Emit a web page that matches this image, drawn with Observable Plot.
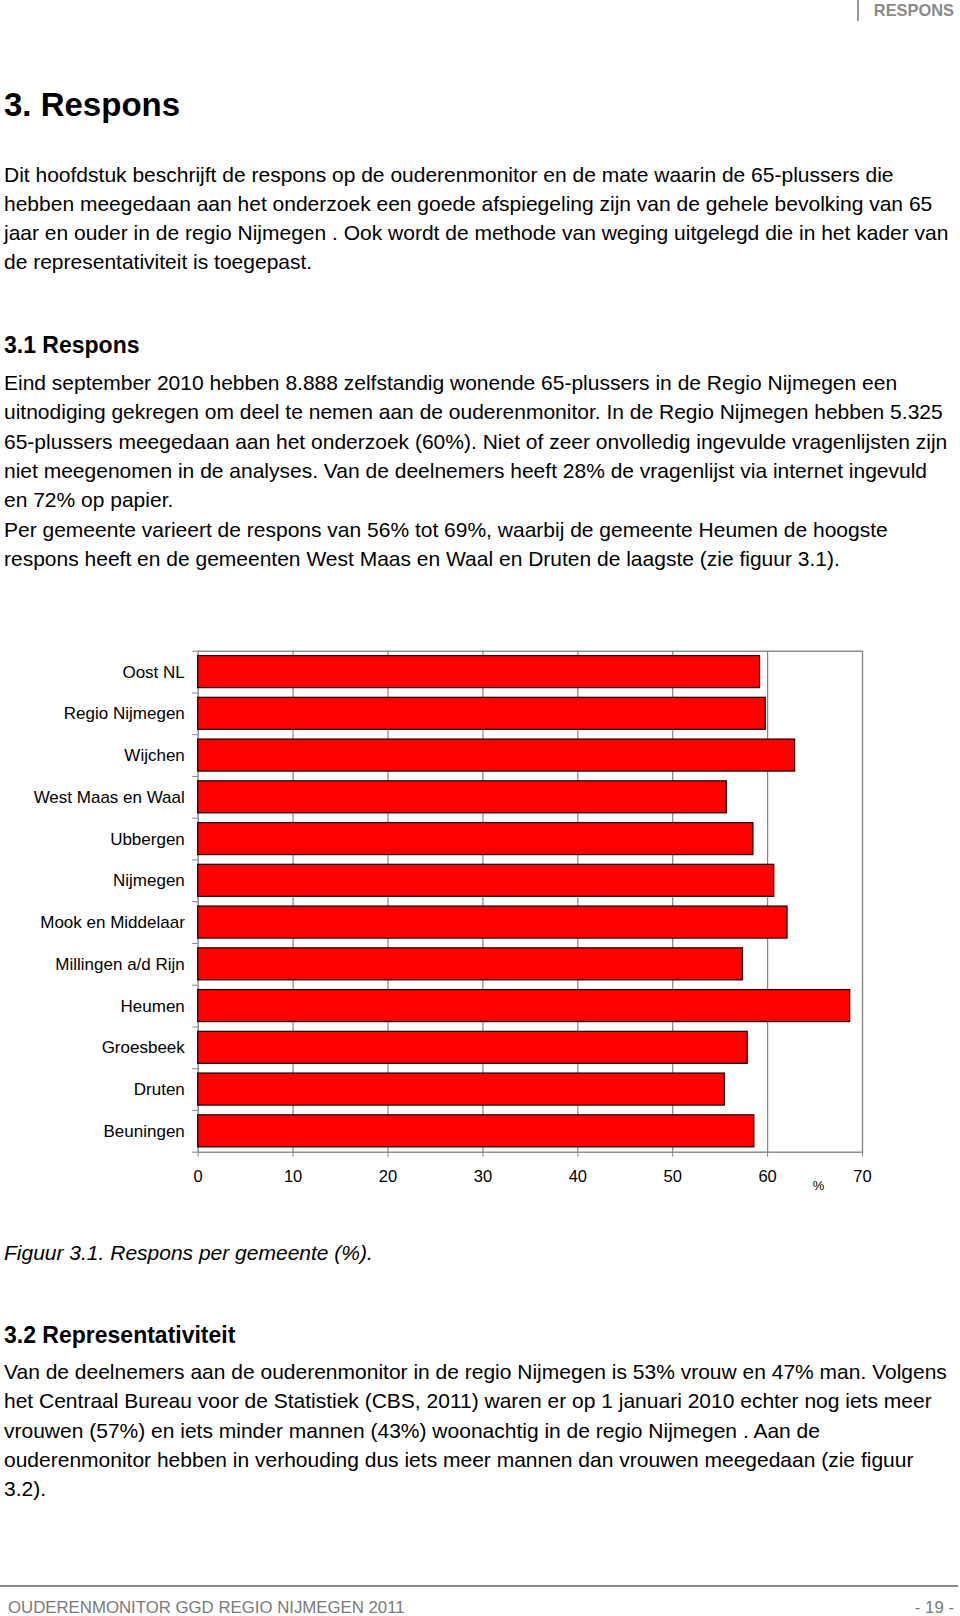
<!DOCTYPE html>
<html>
<head>
<meta charset="utf-8">
<script src="https://cdn.jsdelivr.net/npm/d3@7"></script>
<script src="https://cdn.jsdelivr.net/npm/@observablehq/plot@0.6"></script>
<style>
  html, body { margin: 0; padding: 0; background: #fff; }
  body { width: 960px; height: 1616px; position: relative; overflow: hidden;
         font-family: "Liberation Sans", Arial, sans-serif; color: #000; }
  .ln { position: absolute; left: 4px; white-space: nowrap; font-size: 21px; line-height: 29.3px; height: 29.3px; }
  .h1 { font-size: 33px; font-weight: bold; line-height: 40px; height: 40px; }
  .h2 { font-size: 23px; font-weight: bold; line-height: 30px; height: 30px; }
  .cap { font-style: italic; }
  #chart { position: absolute; left: 0; top: 640px; }
</style>
</head>
<body>
<script>
// ---- chart data ----
const categories = ["Oost NL", "Regio Nijmegen", "Wijchen", "West Maas en Waal", "Ubbergen", "Nijmegen",
  "Mook en Middelaar", "Millingen a/d Rijn", "Heumen", "Groesbeek", "Druten", "Beuningen"];
const responsPct = [59.2, 59.8, 62.9, 55.7, 58.5, 60.7, 62.1, 57.4, 68.7, 57.9, 55.5, 58.6];
const xTicks = [0, 10, 20, 30, 40, 50, 60, 70];
const gridTicks = [10, 20, 30, 40, 50, 60];
const unitLabel = "%";

// ---- page text ----
const headerRight = "RESPONS";
const title = "3. Respons";
const para1 = [
  "Dit hoofdstuk beschrijft de respons op de ouderenmonitor en de mate waarin de 65-plussers die",
  "hebben meegedaan aan het onderzoek een goede afspiegeling zijn van de gehele bevolking van 65",
  "jaar en ouder in de regio Nijmegen . Ook wordt de methode van weging uitgelegd die in het kader van",
  "de representativiteit is toegepast."
];
const heading31 = "3.1 Respons";
const para2 = [
  "Eind september 2010 hebben 8.888 zelfstandig wonende 65-plussers in de Regio Nijmegen een",
  "uitnodiging gekregen om deel te nemen aan de ouderenmonitor. In de Regio Nijmegen hebben 5.325",
  "65-plussers meegedaan aan het onderzoek (60%). Niet of zeer onvolledig ingevulde vragenlijsten zijn",
  "niet meegenomen in de analyses. Van de deelnemers heeft 28% de vragenlijst via internet ingevuld",
  "en 72% op papier.",
  "Per gemeente varieert de respons van 56% tot 69%, waarbij de gemeente Heumen de hoogste",
  "respons heeft en de gemeenten West Maas en Waal en Druten de laagste (zie figuur 3.1)."
];
const caption = "Figuur 3.1. Respons per gemeente (%).";
const heading32 = "3.2 Representativiteit";
const para3 = [
  "Van de deelnemers aan de ouderenmonitor in de regio Nijmegen is 53% vrouw en 47% man. Volgens",
  "het Centraal Bureau voor de Statistiek (CBS, 2011) waren er op 1 januari 2010 echter nog iets meer",
  "vrouwen (57%) en iets minder mannen (43%) woonachtig in de regio Nijmegen . Aan de",
  "ouderenmonitor hebben in verhouding dus iets meer mannen dan vrouwen meegedaan (zie figuur",
  "3.2)."
];
const footerLeft = "OUDERENMONITOR GGD REGIO NIJMEGEN 2011";
const footerRight = "- 19 -";

// ---- layout helpers ----
function addLine(text, centerY, cls, lh) {
  const d = document.createElement("div");
  d.className = "ln " + (cls || "");
  d.textContent = text;
  d.style.top = (centerY - lh / 2) + "px";
  document.body.appendChild(d);
  return d;
}
function addPara(lines, firstCenter, step) {
  lines.forEach((t, i) => addLine(t, firstCenter + i * step, "", 29.3));
}

// header
const hdr = document.createElement("div");
hdr.textContent = headerRight;
Object.assign(hdr.style, {position: "absolute", right: "6px", top: "0px", fontSize: "16.4px",
  fontWeight: "bold", color: "#8a8a8a", lineHeight: "20px"});
document.body.appendChild(hdr);
const hdrBar = document.createElement("div");
Object.assign(hdrBar.style, {position: "absolute", left: "857px", top: "0px", width: "1.5px",
  height: "21px", background: "#9a9a9a"});
document.body.appendChild(hdrBar);

addLine(title, 105, "h1", 40);
addPara(para1, 174.5, 29.2);
addLine(heading31, 345.4, "h2", 30);
addPara(para2, 382.5, 29.4);
addLine(caption, 1252.8, "cap", 29.3);
addLine(heading32, 1335.3, "h2", 30);
addPara(para3, 1371.4, 29.4);

// footer
const fl = document.createElement("div");
Object.assign(fl.style, {position: "absolute", left: "0px", top: "1585px", width: "958px",
  height: "1.5px", background: "#8a8a8a"});
document.body.appendChild(fl);
const ft = document.createElement("div");
ft.textContent = footerLeft;
Object.assign(ft.style, {position: "absolute", left: "8px", top: "1598px", fontSize: "16.8px",
  color: "#7a7a7a", lineHeight: "20px", whiteSpace: "nowrap"});
document.body.appendChild(ft);
const fr = document.createElement("div");
fr.textContent = footerRight;
Object.assign(fr.style, {position: "absolute", right: "6px", top: "1598px", fontSize: "16.8px",
  color: "#7a7a7a", lineHeight: "20px", whiteSpace: "nowrap"});
document.body.appendChild(fr);

// ---- chart ----
const data = categories.map((name, i) => ({name, value: responsPct[i]}));
const W = 960, H = 580, mT = 10.7, mB = 68.3, mL = 197.7, mR = 98;
const step = (H - mT - mB) / categories.length;
const fontStack = "'Liberation Sans', Arial, sans-serif";

const chart = Plot.plot({
  width: W, height: H,
  marginTop: mT, marginBottom: mB, marginLeft: mL, marginRight: mR,
  style: {fontFamily: fontStack, fontSize: "17px", background: "transparent", color: "#000"},
  x: {domain: [0, 70], ticks: xTicks, label: null},
  y: {domain: categories, paddingInner: 0.234, paddingOuter: 0.117, round: false, label: null},
  marks: [
    Plot.gridX(gridTicks, {stroke: "#858585", strokeOpacity: 1, strokeWidth: 1.2}),
    Plot.frame({stroke: "#858585", strokeWidth: 1.4}),
    Plot.barX(data, {x: "value", y: "name", fill: "#ff0000", stroke: "#2a0000", strokeWidth: 1.3}),
    Plot.axisX(xTicks, {tickSize: 5, tickPadding: 13.4, stroke: "#858585", fill: "#000", fontSize: 16.5, label: null}),
    Plot.axisY({tickSize: 0, tickPadding: 13.4, fill: "#000", fontSize: 17, label: null}),
    Plot.axisY({tickSize: 5.5, tickFormat: () => "", stroke: "#858585", dy: -step / 2, label: null}),
    Plot.axisY([categories[categories.length - 1]], {tickSize: 5.5, tickFormat: () => "", stroke: "#858585", dy: step / 2, label: null}),
    Plot.text([unitLabel], {frameAnchor: "bottom-right", dx: -44, dy: 34, text: d => d,
      textAnchor: "middle", lineAnchor: "middle", fontSize: 13, fill: "#000"})
  ]
});
chart.id = "chart";
document.body.appendChild(chart);
</script>
</body>
</html>
